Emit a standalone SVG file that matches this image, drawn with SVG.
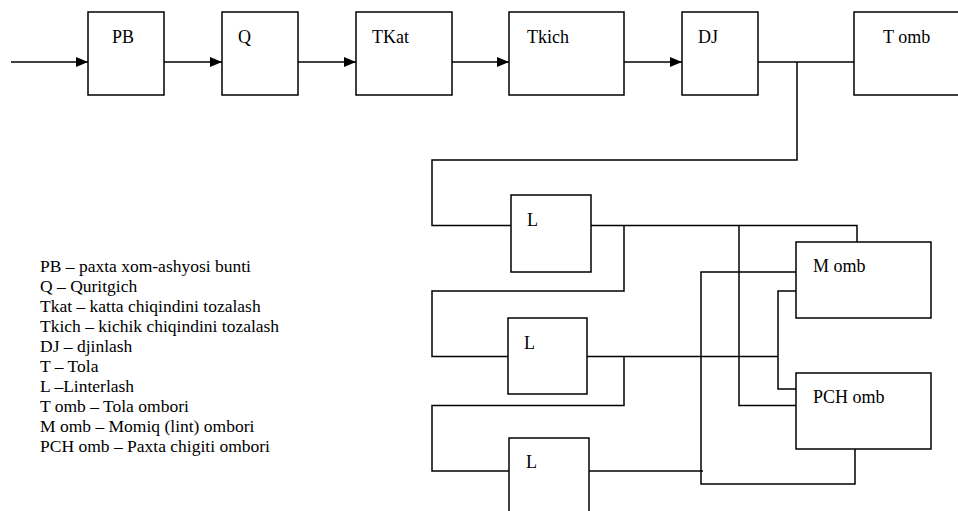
<svg xmlns="http://www.w3.org/2000/svg" width="958" height="511" viewBox="0 0 958 511">
  <style>
    .box { fill: #fff; stroke: #000; stroke-width: 1.5; }
    .wire { fill: none; stroke: #000; stroke-width: 1.5; }
    .lbl { font-family: "Liberation Serif", "Times New Roman", serif; font-size: 18px; fill: #000; }
    .legend { font-family: "Liberation Serif", "Times New Roman", serif; font-size: 17.5px; fill: #000; }
  </style>
  <defs>
    <marker id="arrow" markerWidth="12" markerHeight="10" refX="12" refY="5" orient="auto" markerUnits="userSpaceOnUse">
      <path d="M0,0 L12,5 L0,10 Z" fill="#000"/>
    </marker>
  </defs>
  <rect width="958" height="511" fill="#fff"/>

  <!-- connectors -->
  <g id="connectors">
    <line class="wire" x1="11" y1="62" x2="88" y2="62" marker-end="url(#arrow)"/>
    <line class="wire" x1="164" y1="62" x2="222" y2="62" marker-end="url(#arrow)"/>
    <line class="wire" x1="298" y1="62" x2="356" y2="62" marker-end="url(#arrow)"/>
    <line class="wire" x1="452" y1="62" x2="509" y2="62" marker-end="url(#arrow)"/>
    <line class="wire" x1="624" y1="62" x2="682" y2="62" marker-end="url(#arrow)"/>
    <!-- DJ to fibre store and down to the linters -->
    <line class="wire" x1="758" y1="62" x2="854" y2="62"/>
    <polyline class="wire" points="797,62 797,160 432,160 432,225.5 511,225.5"/>
    <!-- linter 1 outputs -->
    <polyline class="wire" points="591,225.5 857,225.5 857,242"/>
    <polyline class="wire" points="624,225.5 624,291 432,291 432,356.5 508,356.5"/>
    <polyline class="wire" points="739,225.5 739,405.5 796,405.5"/>
    <!-- linter 2 outputs -->
    <line class="wire" x1="587" y1="356.5" x2="778" y2="356.5"/>
    <polyline class="wire" points="624,356.5 624,405.5 432,405.5 432,471 509,471"/>
    <!-- linter 3 outputs -->
    <line class="wire" x1="589" y1="471" x2="703" y2="471"/>
    <polyline class="wire" points="796,272 701,272 701,484 855,484 855,449"/>
    <polyline class="wire" points="796,291 778,291 778,389 796,389"/>
  </g>

  <g id="PB">
    <rect class="box" x="88" y="12" width="76" height="83"/>
    <text class="lbl" x="112" y="43">PB</text>
  </g>
  <g id="Q">
    <rect class="box" x="222" y="12" width="76" height="83"/>
    <text class="lbl" x="238" y="43">Q</text>
  </g>
  <g id="TKat">
    <rect class="box" x="356" y="12" width="96" height="83"/>
    <text class="lbl" x="372" y="43">TKat</text>
  </g>
  <g id="Tkich">
    <rect class="box" x="509" y="12" width="115" height="83"/>
    <text class="lbl" x="527" y="43">Tkich</text>
  </g>
  <g id="DJ">
    <rect class="box" x="682" y="12" width="76" height="83"/>
    <text class="lbl" x="698" y="43">DJ</text>
  </g>
  <g id="Tomb">
    <rect class="box" x="854" y="12" width="110" height="83"/>
    <text class="lbl" x="883" y="43">T omb</text>
  </g>
  <g id="L1">
    <rect class="box" x="511" y="195" width="80" height="77"/>
    <text class="lbl" x="527" y="226">L</text>
  </g>
  <g id="L2">
    <rect class="box" x="508" y="318" width="79" height="76"/>
    <text class="lbl" x="524" y="349">L</text>
  </g>
  <g id="L3">
    <rect class="box" x="509" y="438" width="80" height="80"/>
    <text class="lbl" x="526" y="468">L</text>
  </g>
  <g id="Momb">
    <rect class="box" x="796" y="242" width="135" height="76"/>
    <text class="lbl" x="813" y="272">M omb</text>
  </g>
  <g id="PCHomb">
    <rect class="box" x="796" y="373" width="135" height="76"/>
    <text class="lbl" x="813" y="403">PCH omb</text>
  </g>

  <g id="legend" class="legend">
    <text x="40" y="272">PB – paxta xom-ashyosi bunti</text>
    <text x="40" y="292">Q – Quritgich</text>
    <text x="40" y="312">Tkat – katta chiqindini tozalash</text>
    <text x="40" y="332">Tkich – kichik chiqindini tozalash</text>
    <text x="40" y="352">DJ – djinlash</text>
    <text x="40" y="372">T – Tola</text>
    <text x="40" y="392">L –Linterlash</text>
    <text x="40" y="412">T omb – Tola ombori</text>
    <text x="40" y="432">M omb – Momiq (lint) ombori</text>
    <text x="40" y="452">PCH omb – Paxta chigiti ombori</text>
  </g>
</svg>
